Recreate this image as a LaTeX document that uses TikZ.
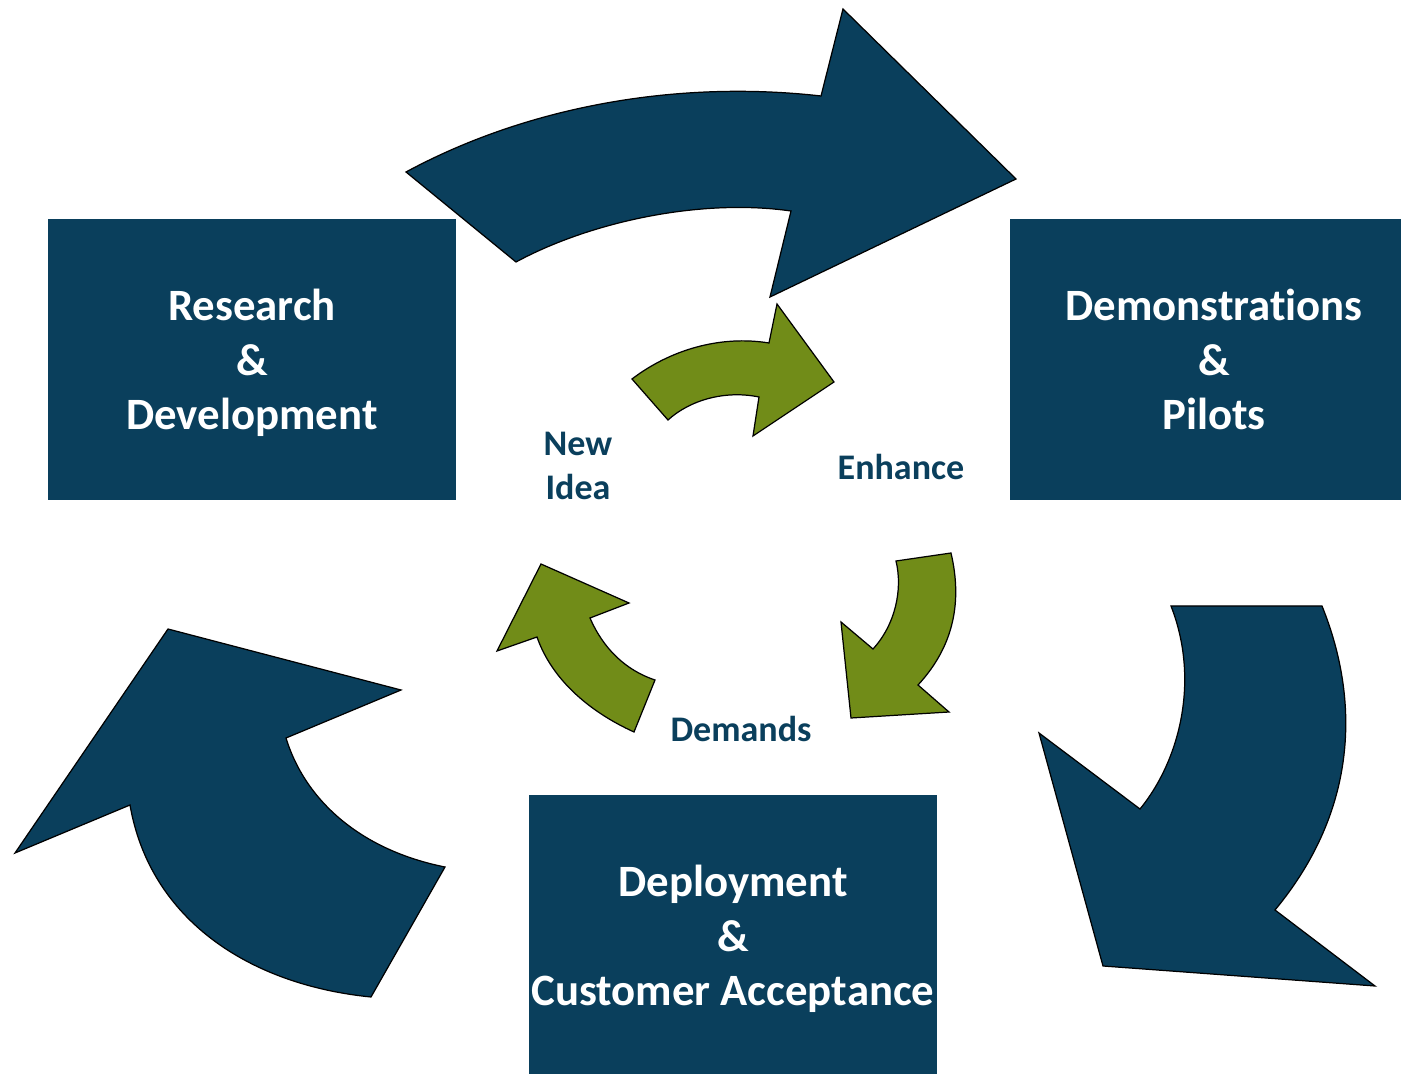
\documentclass[tikz,border=0pt]{standalone}
\usepackage{fontspec}
\setmainfont{Carlito}[Ligatures={NoCommon}, Contextuals={NoAlternate}]
\definecolor{deepblue}{HTML}{0A3F5C}
\definecolor{leafgreen}{HTML}{718C18}
\tikzset{
    bigbox/.style={fill=deepblue, text=white, inner sep=0pt, minimum width=8.16cm, minimum height=5.62cm, align=center, text depth=0pt, font=\bfseries\fontsize{25.5}{31}\selectfont},
    bigarrow/.style={fill=deepblue, draw=black, line width=0.7pt},
    smallarrow/.style={fill=leafgreen, draw=black, line width=0.7pt},
    cyclelabel/.style={text=deepblue, align=center, font=\bfseries\fontsize{20.5}{25.5}\selectfont}
}
\begin{document}
\begin{tikzpicture}[x=0.02cm, y=-0.02cm]
    \useasboundingbox (0,0) rectangle (1401,1074);
    \node[bigbox] (rd) at (252,359.5) {Research\\\&\\Development};
    \node[bigbox] (demo) at (1214,359.5) {Demonstrat\kern0pt ions\\\&\\Pilots};
    \node[bigbox] (deploy) at (733,935.5) {Deployment\\\&\\Customer Acceptance};
    % outer cycle
    \draw[bigarrow] (406,172) .. controls (530,105) and (680,80) .. (821,96) -- (843,9) -- (1016,179) -- (770,297) -- (791,211) .. controls (700,198) and (590,222) .. (516,262) -- cycle;
    \draw[bigarrow] (1171,606) -- (1322,606) .. controls (1360,700) and (1358,810) .. (1275,910) -- (1375,986) -- (1103,966) -- (1039,733) -- (1140,809) .. controls (1180,760) and (1200,680) .. cycle;
    \draw[bigarrow] (371,997) .. controls (250,985) and (150,920) .. (130,805) -- (15,853) -- (168,629) -- (401,690) -- (286,738) .. controls (305,800) and (360,850) .. (445,867) -- cycle;
    % inner cycle
    \draw[smallarrow] (632,379) .. controls (670,350) and (720,335) .. (769,343) -- (777,304) -- (834,382) -- (753,436) -- (759,397) .. controls (725,390) and (690,400) .. (668,420) -- cycle;
    \draw[smallarrow] (896,561) -- (951,553) .. controls (962,600) and (955,645) .. (918,685) -- (949,712) -- (851,718) -- (841,622) -- (873,649) .. controls (895,625) and (903,590) .. cycle;
    \draw[smallarrow] (655,680) -- (634,732) .. controls (590,712) and (552,680) .. (537,637) -- (497,651) -- (541,564) -- (629,603) -- (590,618) .. controls (603,648) and (625,670) .. cycle;
    \node[cyclelabel] (idea) at (578,466) {New\\Idea};
    \node[cyclelabel] (enhance) at (901,467) {Enhance};
    \node[cyclelabel] (demands) at (741,729) {Demands};
\end{tikzpicture}
\end{document}
